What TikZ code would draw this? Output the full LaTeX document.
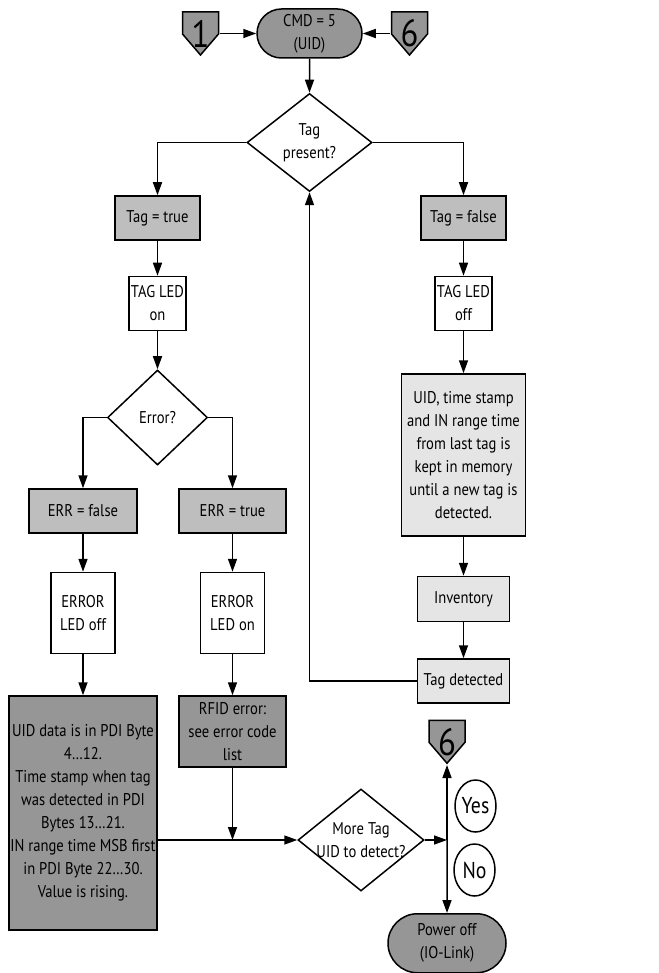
\documentclass[tikz,border=0pt]{standalone}
\usepackage{fontspec}
\setmainfont[FakeStretch=0.86]{PT Sans}
\usetikzlibrary{positioning, arrows.meta, shapes.geometric, shapes.misc}
\definecolor{darkfill}{RGB}{150,150,150}
\definecolor{midfill}{RGB}{190,190,190}
\definecolor{lightfill}{RGB}{229,229,229}
\tikzset{
x=1pt, y=-1pt, % one unit is one pixel of the sketch, y runs downwards
>={Triangle[width=9pt,length=13pt]}, % filled arrow heads
every node/.style={font=\fontsize{17}{23}\selectfont, align=center}, % text of all nodes
process/.style={draw, rectangle, fill=white, inner sep=1pt}, % plain white step
midbox/.style={process, fill=midfill}, % flag boxes
darkbox/.style={process, fill=darkfill}, % result boxes
lightbox/.style={process, fill=lightfill}, % memory boxes
decision/.style={draw, diamond, fill=white, inner sep=0pt}, % question, text set as centre label
terminal/.style={draw, rounded rectangle, fill=darkfill, inner sep=1pt}, % start and end
connector/.style={rectangle, inner sep=0pt, minimum width=38pt, minimum height=45pt,
  font=\fontsize{38}{38}\selectfont,
  path picture={\draw[fill=darkfill]
    ([xshift=1pt,yshift=-1pt]path picture bounding box.north west) --
    ([xshift=-1pt,yshift=-1pt]path picture bounding box.north east) --
    ([xshift=-1pt,yshift=-23pt]path picture bounding box.north east) --
    ([yshift=1pt]path picture bounding box.south) --
    ([xshift=1pt,yshift=-23pt]path picture bounding box.north west) -- cycle;}}, % page marker
answer/.style={draw, ellipse, inner sep=0pt, minimum width=41pt, minimum height=52pt,
  font=\fontsize{23}{23}\selectfont}, % yes / no bubble
}

\begin{document}
\begin{tikzpicture}[line width=1.5pt]
\useasboundingbox (0,0) rectangle (658,973);

\node[terminal, minimum width=107pt, minimum height=49pt] (cmd) at (309.5,33.5) {CMD = 5\\(UID)};
\node[connector, left=36pt of cmd] (one) {1};
\node[connector, right=27pt of cmd] (six) {6};
\node[decision, minimum width=125pt, minimum height=98pt, below=34pt of cmd,
  label={center:{Tag\\present?}}] (tagq) {};

\node[midbox, minimum width=85pt, minimum height=44pt] (tagT) at (157.5,218) {Tag = true};
\node[process, minimum width=57pt, minimum height=54pt, below=35pt of tagT] (ledon) {TAG LED\\on};
\node[decision, minimum width=100pt, minimum height=95pt, below=38pt of ledon,
  label={center:Error?}] (errq) {};

\node[midbox, minimum width=108pt, minimum height=44pt] (errF) at (83,511) {ERR = false};
\node[midbox, minimum width=107pt, minimum height=44pt] (errT) at (232.5,511) {ERR = true};
\node[process, minimum width=64pt, minimum height=81pt, below=38pt of errF] (ledoff) {ERROR\\LED off};
\node[process, minimum width=64pt, minimum height=81pt, below=38pt of errT] (lederr) {ERROR\\LED on};
\node[darkbox, minimum width=148pt, minimum height=234pt, below=41pt of ledoff] (uid)
  {UID data is in PDI Byte\\4\dots12.\\Time stamp when tag\\was detected in PDI\\Bytes 13\dots21.\\IN range time MSB first\\in PDI Byte 22\dots30.\\Value is rising.};
\node[darkbox, minimum width=107pt, minimum height=71pt, below=41pt of lederr] (rfid)
  {RFID error:\\see error code\\list};

\node[midbox, minimum width=85pt, minimum height=44pt] (tagF) at (463.5,218) {Tag = false};
\node[process, minimum width=57pt, minimum height=54pt, below=35pt of tagF] (ledoff2) {TAG LED\\off};
\node[lightbox, minimum width=124pt, minimum height=162pt, below=42pt of ledoff2] (keep)
  {UID, time stamp\\and IN range time\\from last tag is\\kept in memory\\until a new tag is\\detected.};
\node[lightbox, minimum width=92pt, minimum height=45pt, below=39pt of keep] (inv) {Inventory};
\node[lightbox, minimum width=92pt, minimum height=44pt, below=36pt of inv] (tagdet) {Tag detected};

\node[decision, minimum width=126pt, minimum height=102pt, label={center:{More Tag\\UID to detect?}}] (more) at (361,840) {};
\coordinate (jn) at (447,840);
\node[connector, above=75pt of jn] (sixb) {6};
\node[terminal, minimum width=120pt, minimum height=59pt, below=73pt of jn] (power) {Power off\\(IO-Link)};
\node[answer] (yes) at (475.5,806) {Yes};
\node[answer] (no) at (474.5,870) {No};

\draw[->] (one.east) -- (cmd.west);
\draw[->] (six.west) -- (cmd.east);
\draw[->] (cmd) -- (tagq);
\draw[->] (tagq.west) -| (tagT);
\draw[->] (tagq.east) -| (tagF);
\draw[->] (tagT) -- (ledon);
\draw[->] (ledon) -- (errq);
\draw[->] (errq.west) -| (errF);
\draw[->] (errq.east) -| (errT);
\draw[->] (errF) -- (ledoff);
\draw[->] (errT) -- (lederr);
\draw[->] (ledoff) -- (uid);
\draw[->] (lederr) -- (rfid);
\draw[->] (tagF) -- (ledoff2);
\draw[->] (ledoff2) -- (keep);
\draw[->] (keep) -- (inv);
\draw[->] (inv) -- (tagdet);
\draw[->] (tagdet.west) -| (tagq.south);
\draw[->] (uid.east |- more.west) -- (more.west);
\draw[->] (rfid) -- (rfid |- more.west);
\draw[->] (more.east) -- (jn);
\draw[->] (jn) -- (sixb.south);
\draw[->] (jn) -- (power);
\end{tikzpicture}
\end{document}
